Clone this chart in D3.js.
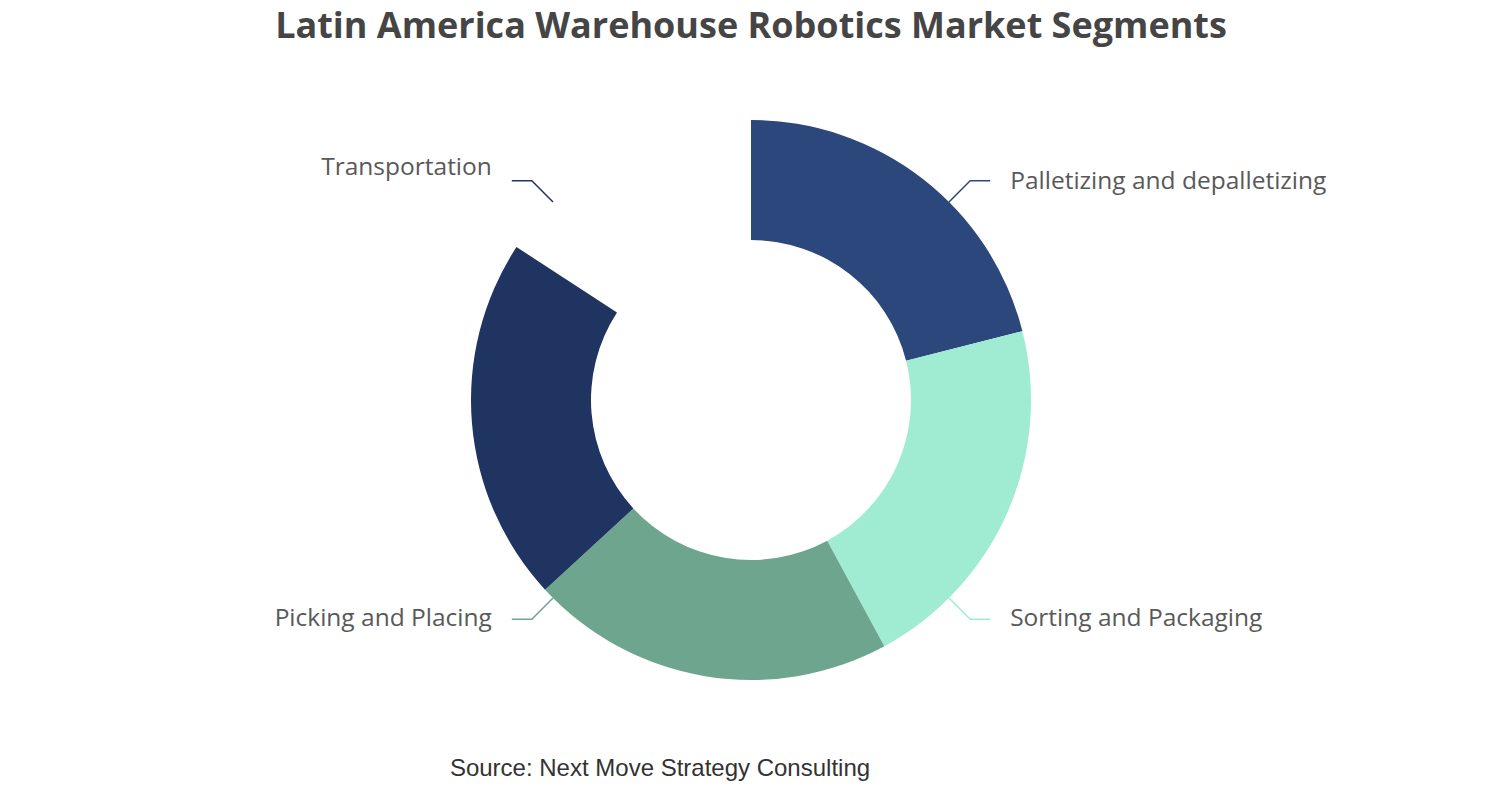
<!DOCTYPE html>
<html><head><meta charset="utf-8">
<script src="https://cdn.jsdelivr.net/npm/d3@7"></script>
<style>html,body{margin:0;padding:0;background:#fff;}</style>
</head><body>
<svg id="c" width="1502" height="800"></svg>
<script>
const categories = ["Palletizing and depalletizing", "Sorting and Packaging", "Picking and Placing", "Transportation"];
const values = [25, 25, 25, 25];
const colors = ["#2b477b", "#a0ecd2", "#6ea58e", "#1f3461"];
const labelDy = [0, -2, -2, -14];
const sweepShown = 0.842; // portion of the ring drawn in the snapshot
const titleText = "Latin America Warehouse Robotics Market Segments";
const sourceText = "Source: Next Move Strategy Consulting";

const W = 1502, H = 800;
const cx = 751, cy = 400, R = 280, r = 160;
const svg = d3.select("#c");

svg.append("text").attr("x", cx).attr("y", 38).attr("text-anchor", "middle")
  .attr("font-family", "'Open Sans', sans-serif").attr("font-weight", 700)
  .attr("font-size", 36).attr("fill", "#454545").text(titleText);

const data = categories.map((c, i) => ({name: c, value: values[i], color: colors[i], dy: labelDy[i]}));
const pieFull = d3.pie().sort(null).value(d => d.value);
const pieShown = d3.pie().sort(null).value(d => d.value).endAngle(2 * Math.PI * sweepShown);
const arc = d3.arc().innerRadius(r).outerRadius(R);

const g = svg.append("g").attr("transform", `translate(${cx},${cy})`);
g.selectAll("path.slice").data(pieShown(data)).join("path")
  .attr("class", "slice").attr("d", arc).attr("fill", d => d.data.color);

const full = pieFull(data);
const L1 = 30, L2 = 20, gap = 20;
full.forEach(d => {
  const a = (d.startAngle + d.endAngle) / 2;
  const sx = Math.sin(a), sy = -Math.cos(a);
  const p0 = [R * sx, R * sy];
  const p1 = [(R + L1) * sx, (R + L1) * sy];
  const right = sx >= 0;
  const p2 = [p1[0] + (right ? L2 : -L2), p1[1]];
  g.append("polyline").attr("points", [p0, p1, p2].map(p => p.join(",")).join(" "))
    .attr("fill", "none").attr("stroke", d.data.color).attr("stroke-width", 1.5);
  g.append("text").attr("x", p2[0] + (right ? gap : -gap)).attr("y", p2[1] + d.data.dy)
    .attr("dy", "0.35em").attr("text-anchor", right ? "start" : "end")
    .attr("font-family", "'Open Sans', sans-serif").attr("font-size", 24.5)
    .attr("fill", "#595959").text(d.data.name);
});

svg.append("text").attr("x", 660).attr("y", 776).attr("text-anchor", "middle")
  .attr("font-family", "'Liberation Sans', Arial, sans-serif").attr("font-size", 24)
  .attr("fill", "#333").text(sourceText);
</script>
</body></html>
